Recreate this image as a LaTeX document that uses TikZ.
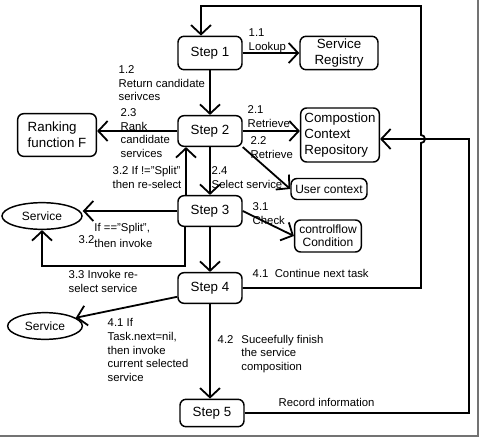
\documentclass[tikz,border=0pt]{standalone}
\usepackage{fontspec}
\setmainfont{Liberation Sans}
\usepackage{tikz}
\usetikzlibrary{arrows.meta,shapes.geometric}
\usepackage{xcolor}
\newcommand{\shadowgrey}{black!55}

\begin{document}
\begin{tikzpicture}[->,>={Straight Barb[length=7pt,width=15pt]},x=0.75pt,y=-0.75pt,line width=1.35pt]
    \tikzstyle{every node}=[font=\fontsize{10}{12}\selectfont,inner sep=1pt,line width=1.1pt]
    \tikzstyle{stepbox}=[draw,rounded corners=4.5pt,minimum width=48pt,minimum height=23pt]
    \tikzstyle{store}=[draw,rounded corners=4.5pt,align=left]
    \tikzstyle{small}=[draw,rounded corners=4.5pt,align=center,font=\fontsize{9}{10}\selectfont]
    \tikzstyle{service}=[draw,ellipse,minimum width=60pt,minimum height=20pt,font=\fontsize{9}{11}\selectfont]
    \tikzstyle{lbl}=[anchor=north west,inner sep=0pt,align=left,font=\fontsize{8.5}{10.2}\selectfont]
    \useasboundingbox (0,0) rectangle (481,439);
    \draw[-,\shadowgrey,line width=1.5pt] (478,0) -- (478,436) -- (0,436);
    \node[stepbox,minimum height=25pt] (s1) at (210,53) {Step 1};
    \node[store,align=center,minimum width=58.5pt,minimum height=25pt] (reg) at (339,53) {Service\\Registry};
    \node[stepbox] (s2) at (210,131) {Step 2};
    \node[store,minimum width=59pt,minimum height=32pt] (rank) at (57,135) {Ranking\\function F};
    \node[store,minimum width=59pt,minimum height=40.5pt] (repo) at (340,135) {Compostion\\Context\\Repository};
    \node[small,minimum width=57pt,minimum height=15.75pt] (uctx) at (329,189) {User context};
    \node[stepbox] (s3) at (210,211) {Step 3};
    \node[service] (srv1) at (42,216) {Service};
    \node[small,minimum width=50pt,minimum height=24pt] (cond) at (328,236) {controlflow\\Condition};
    \node[stepbox] (s4) at (210,288) {Step 4};
    \node[service,minimum width=56pt] (srv2) at (45,326) {Service};
    \node[stepbox,minimum height=20.5pt] (s5) at (212,413) {Step 5};
    \coordinate (top) at (421,6);
    \coordinate (hop) at (421,143);
    \coordinate (right) at (469,139);
    \path (s1) edge (reg);
    \path (s1) edge (s2);
    \path (s2.west) edge (s2.west -| rank.east);
    \path (s2.east) edge (s2.east -| repo.west);
    \path (s2.south east) edge (uctx.west);
    \path (s2) edge (s3);
    \path ([xshift=-18pt]s3.north) edge ([xshift=-18pt]s2.south);
    \path (s3.west) edge (s3.west -| srv1.east);
    \draw ([xshift=-18.75pt]s3.south) -- ++(0,39) -| (srv1.south);
    \path (s3.east) edge (cond.west);
    \path (s3) edge (s4);
    \path (s4.195) edge (srv2.15);
    \path (s4.south) edge (s4.south |- s5.north);
    \draw (s4.east) -| (hop) arc[start angle=90,end angle=-90,radius=4] -- (top) -| ([xshift=-6.75pt]s1.north);
    \draw (s5.east) -| (right) -- (right -| repo.east);
    \node[lbl] (l11) at (248,28) {1.1\\Lookup};
    \node[lbl] (l12) at (118,65) {1.2\\Return candidate\\serivces};
    \node[lbl] (l23) at (120,108) {2.3\\Rank\\candidate\\services};
    \node[lbl] (l21) at (247,105) {2.1\\Retrieve};
    \node[lbl] (l22) at (250,136) {2.2\\Retrieve};
    \node[lbl] (l24) at (211,166) {2.4\\Select service};
    \node[lbl] (l32a) at (112,166) {3.2 If !="Split"\\then re-select};
    \node[lbl] (l32b) at (78,221) {\begin{tabular}{@{}l@{}l@{}} & If =="Split",\\ \raisebox{3pt}{3.2} & then invoke\end{tabular}};
    \node[lbl] (l31) at (252,202) {3.1\\Check};
    \node[lbl] (l33) at (68,270) {3.3 Invoke re-\\select service};
    \node[lbl] (l41a) at (252,269) {4.1~~Continue next task};
    \node[lbl] (l41b) at (107,318) {4.1 If\\Task.next=nil,\\then invoke\\current selected\\service};
    \node[lbl] (l42) at (217,333) {\begin{tabular}{@{}l@{\hspace{6pt}}l@{}}4.2 & Suceefully finish\\ & the service\\ & composition\end{tabular}};
    \node[lbl] (lrec) at (278,398) {Record information};
  \end{tikzpicture}
\end{document}
